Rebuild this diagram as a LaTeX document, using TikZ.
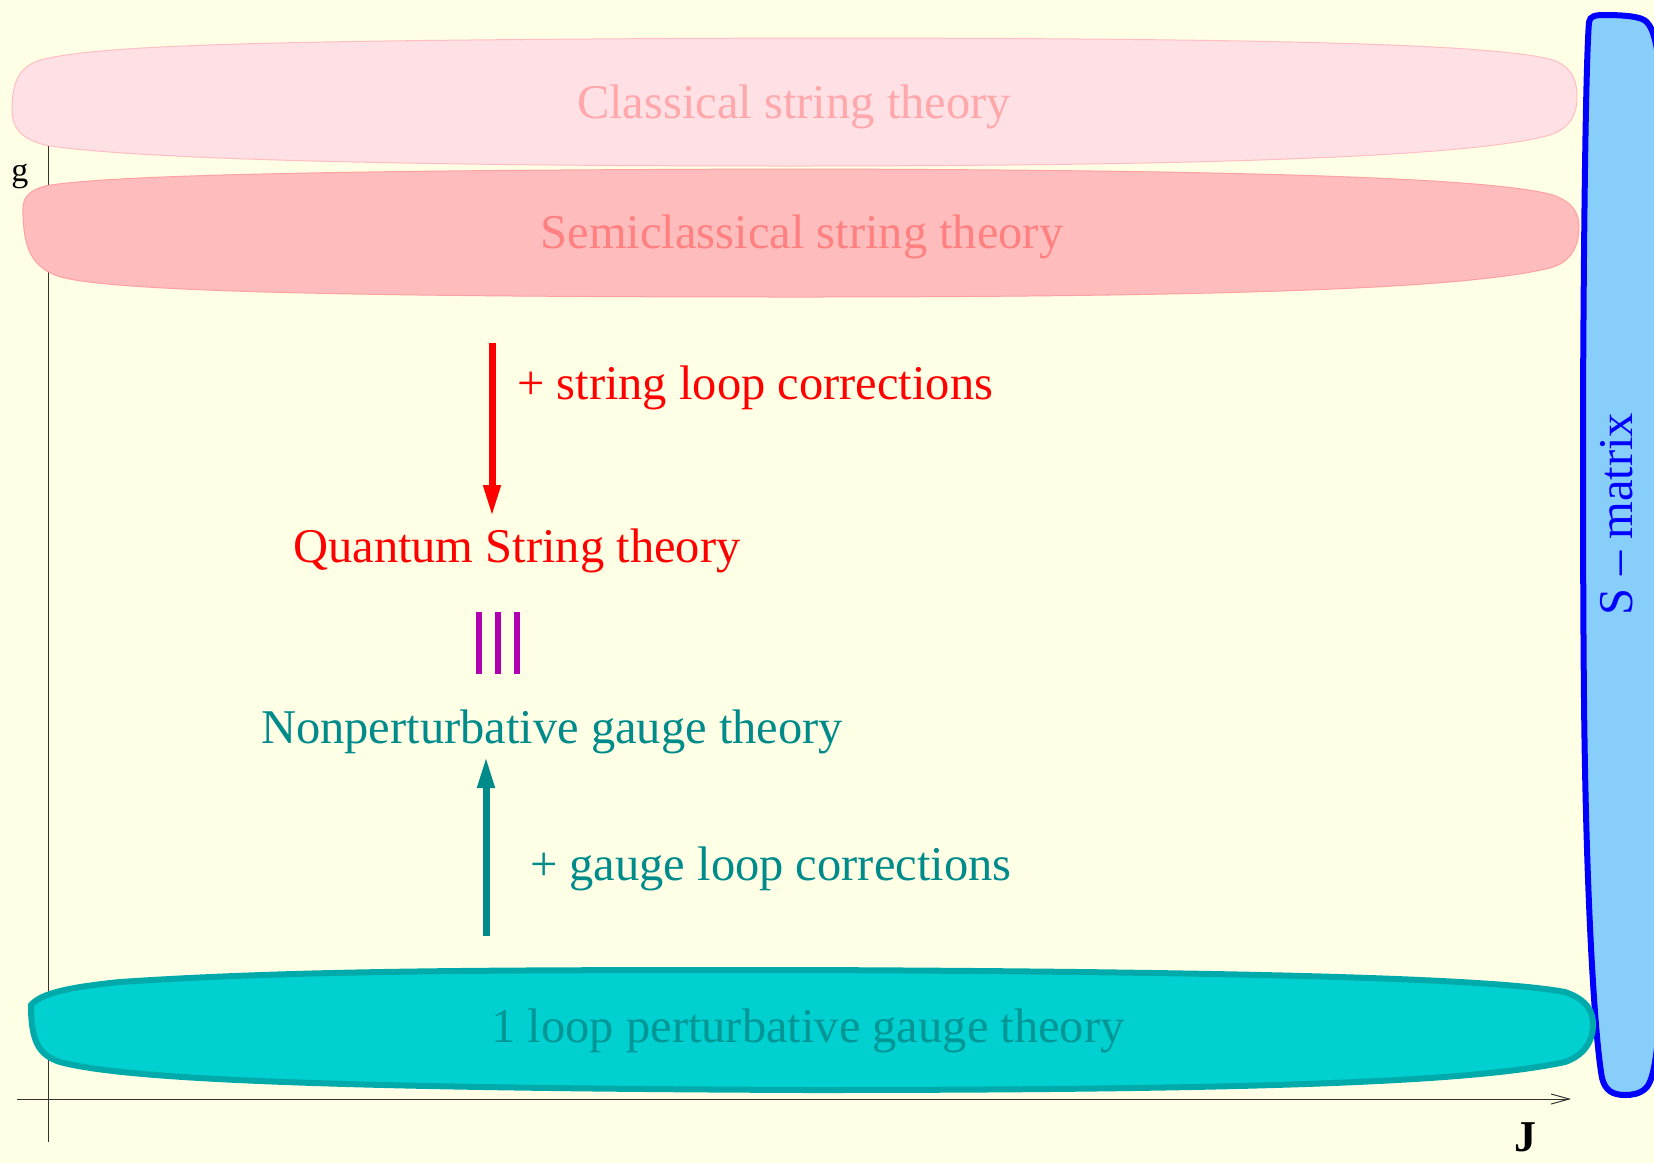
\documentclass[tikz,border=0pt]{standalone}
\usepackage{fontspec}
\setmainfont{Liberation Serif}
\usetikzlibrary{arrows.meta}

\definecolor{bgyellow}{RGB}{255,255,230}
\definecolor{clfill}{RGB}{255,224,228}
\definecolor{cledge}{RGB}{255,190,195}
\definecolor{cltext}{RGB}{255,168,172}
\definecolor{scfill}{RGB}{255,188,188}
\definecolor{scedge}{RGB}{255,160,162}
\definecolor{sctext}{RGB}{255,128,128}
\definecolor{olfill}{RGB}{0,208,208}
\definecolor{oledge}{RGB}{0,170,170}
\definecolor{oltext}{RGB}{0,150,150}
\definecolor{gaugeteal}{RGB}{0,139,139}
\definecolor{smfill}{RGB}{135,206,250}
\definecolor{barmag}{RGB}{176,0,176}

\tikzset{
  big/.style={font=\fontsize{48.5}{58}\selectfont, inner sep=0pt},
  axisline/.style={black!80, line width=1pt},
  corrarrow/.style={line width=7pt, -{Triangle[length=32pt,width=16pt]}},
}

\begin{document}
\begin{tikzpicture}[x=1pt, y=-1pt]
  \useasboundingbox (0,0) rectangle (1654,1163);
  \fill[bgyellow] (0,0) rectangle (1654,1163);

  % axes
  \coordinate (yaxtop) at (48,60);
  \coordinate (yaxbot) at (48,1142);
  \coordinate (xaxl) at (17,1099);
  \coordinate (xaxr) at (1571,1099);
  \draw[axisline] (yaxbot) -- (yaxtop);
  \draw[axisline, -{Straight Barb[length=18pt,width=10pt]}] (xaxl) -- (xaxr);
  \node[font=\fontsize{34}{40}\selectfont, anchor=base, inner sep=0pt] (glabel) at (20,181) {g};
  \node[font=\fontsize{44}{50}\selectfont\bfseries, anchor=base, inner sep=0pt] (jlabel) at (1525,1151) {J};

  % S-matrix band
  \draw[blue, fill=smfill, line width=6pt]
    (1583,400) .. controls (1584,200) and (1586,60) .. (1589,22)
    .. controls (1590,16) and (1595,15) .. (1605,15)
    .. controls (1620,15) and (1635,16) .. (1642,19)
    .. controls (1655,24) and (1660,50) .. (1662,120) -- (1662,950)
    .. controls (1660,1050) and (1654,1080) .. (1646,1088)
    .. controls (1640,1094) and (1632,1095) .. (1625,1095)
    .. controls (1612,1095) and (1605,1090) .. (1602,1078)
    .. controls (1595,1040) and (1586,900) .. (1584,700)
    .. controls (1583,600) and (1583,500) .. (1583,400) -- cycle;
  \node[big, text=blue, rotate=90] (smatrix) at (1617,514) {S – matrix};

  % classical
  \draw[cledge, fill=clfill, line width=1pt]
    (12,110) .. controls (12,80) and (20,67) .. (40,60)
    .. controls (100,45) and (250,40) .. (790,38)
    .. controls (1300,38) and (1500,45) .. (1553,60)
    .. controls (1575,68) and (1577,85) .. (1577,97)
    .. controls (1577,115) and (1570,128) .. (1550,135)
    .. controls (1490,152) and (1300,166) .. (790,166)
    .. controls (300,166) and (100,155) .. (45,145)
    .. controls (18,138) and (12,125) .. (12,110) -- cycle;
  \node[big, text=cltext, anchor=base] (classical) at (794,118) {Classical string theory};

  % semiclassical
  \draw[scedge, fill=scfill, line width=1pt]
    (23,215) .. controls (22,200) and (25,192) .. (45,186)
    .. controls (100,176) and (300,170) .. (800,169)
    .. controls (1300,170) and (1500,180) .. (1553,195)
    .. controls (1575,203) and (1579,215) .. (1579,227)
    .. controls (1579,245) and (1572,262) .. (1550,268)
    .. controls (1480,285) and (1300,297) .. (800,297)
    .. controls (300,297) and (90,290) .. (55,275)
    .. controls (30,265) and (24,245) .. (23,215) -- cycle;
  \node[big, text=sctext, anchor=base] (semiclass) at (802,248) {Semiclassical string theory};

  % one loop
  \draw[oledge, fill=olfill, line width=6pt]
    (31,1005) .. controls (40,995) and (60,988) .. (120,982)
    .. controls (300,970) and (500,970) .. (808,970)
    .. controls (1300,972) and (1500,980) .. (1565,992)
    .. controls (1588,1000) and (1593,1012) .. (1593,1025)
    .. controls (1593,1040) and (1585,1055) .. (1565,1062)
    .. controls (1480,1080) and (1300,1090) .. (808,1090)
    .. controls (300,1088) and (120,1078) .. (60,1062)
    .. controls (38,1055) and (31,1040) .. (31,1005) -- cycle;
  \node[big, text=oltext, anchor=base] (oneloop) at (808,1042) {1 loop perturbative gauge theory};

  % string side
  \coordinate (strtop) at (492,343);
  \coordinate (strbot) at (492,517);
  \draw[red, corrarrow] (strtop) -- (strbot);
  \node[big, text=red, anchor=base west] (strcorr) at (517,399) {+ string loop corrections};
  \node[big, text=red, anchor=base west] (quantum) at (293,562) {Quantum String theory};

  % equivalence
  \foreach \x in {479,498,517}
    \draw[barmag, line width=6pt] (\x,612) -- (\x,674);

  % gauge side
  \node[big, text=gaugeteal, anchor=base west] (nonpert) at (261,743) {Nonperturbative gauge theory};
  \coordinate (gaugebot) at (486,936);
  \coordinate (gaugetop) at (486,756);
  \draw[gaugeteal, corrarrow] (gaugebot) -- (gaugetop);
  \node[big, text=gaugeteal, anchor=base west] (gaugecorr) at (530,880) {+ gauge loop corrections};
\end{tikzpicture}
\end{document}
